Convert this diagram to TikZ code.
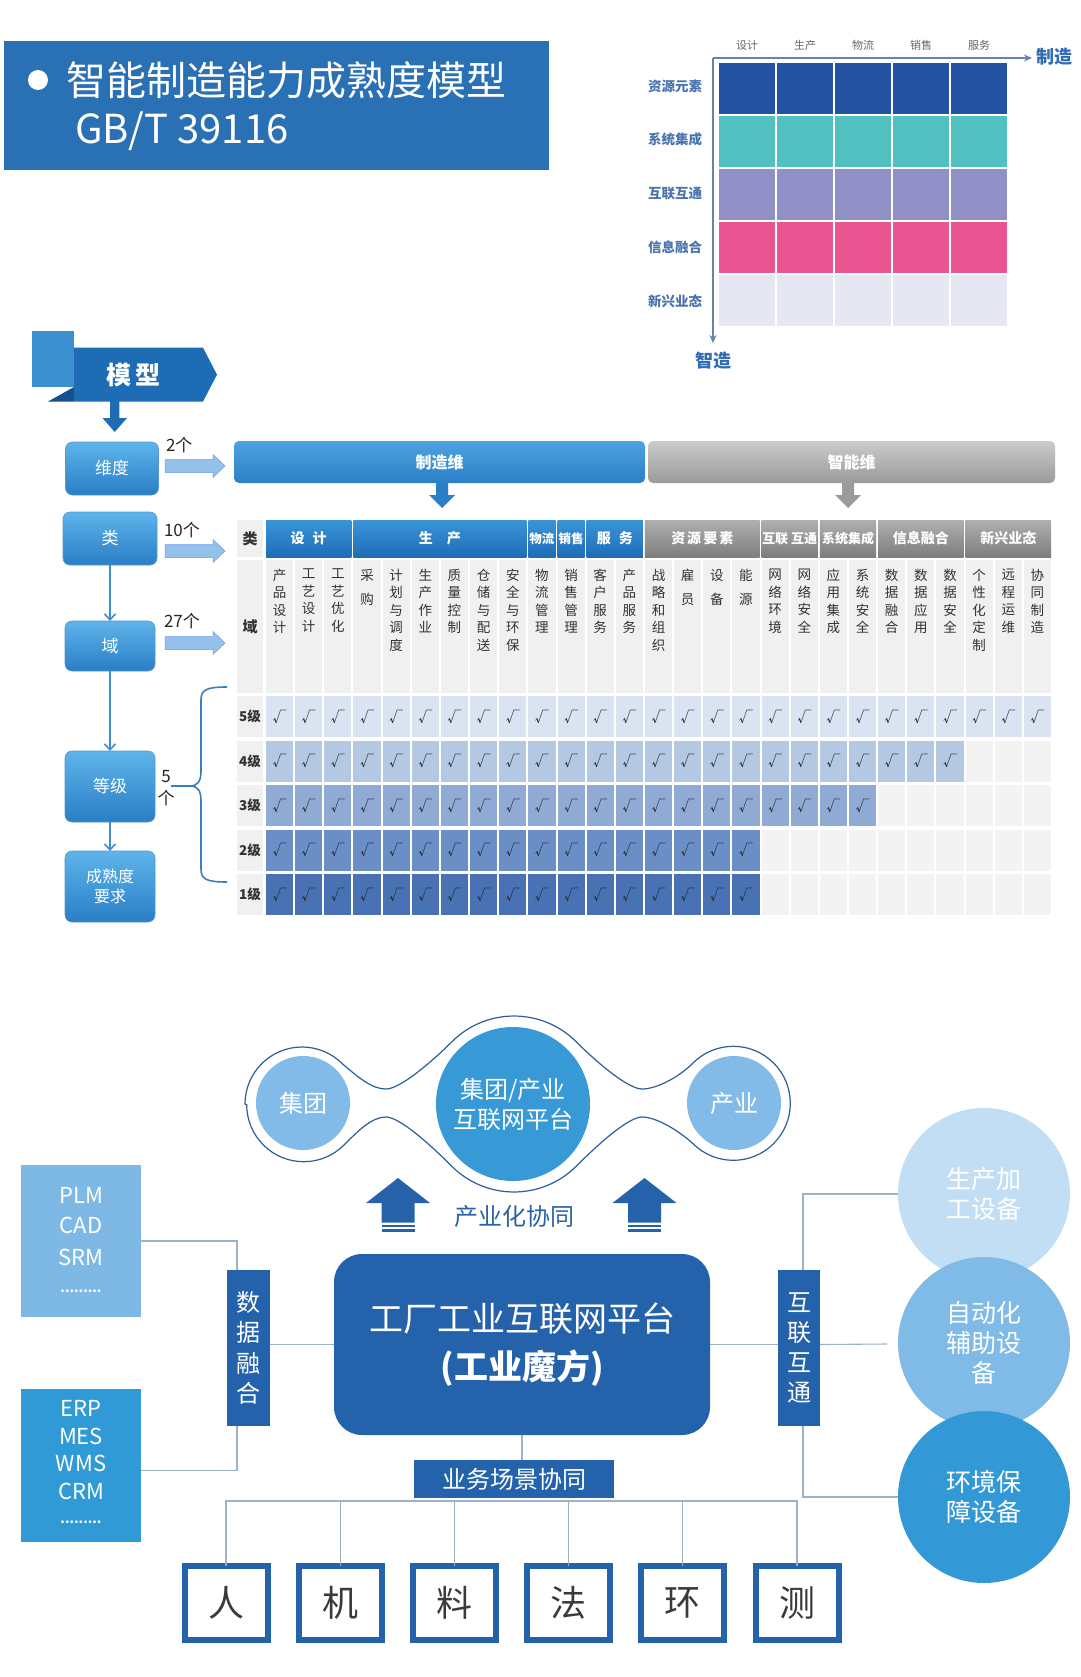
\documentclass[tikz,border=0pt]{standalone}
\usepackage{fontspec}
\setmainfont{Noto Sans CJK SC}
\usetikzlibrary{arrows.meta,calc}
\definecolor{titleblue}{HTML}{2A70B4}
\definecolor{mrow1}{HTML}{2453A4}
\definecolor{mrow2}{HTML}{52BFC0}
\definecolor{mrow3}{HTML}{9090C6}
\definecolor{mrow4}{HTML}{E85591}
\definecolor{mrow5}{HTML}{E5E8F3}
\definecolor{axisc}{HTML}{6384AC}
\definecolor{rowlab}{HTML}{4B74AE}
\definecolor{zlab}{HTML}{2F6CB3}
\definecolor{bannerblue}{HTML}{1E6DB4}
\definecolor{bannerlight}{HTML}{3B90D0}
\definecolor{bannerdark}{HTML}{17508F}
\definecolor{lboxtop}{HTML}{5EB4EA}
\definecolor{lboxbot}{HTML}{2A7EC5}
\definecolor{conarr}{HTML}{3F8DD3}
\definecolor{rarrfill}{HTML}{92C1EA}
\definecolor{hbtop}{HTML}{4DA3E0}
\definecolor{hbbot}{HTML}{2A7FC7}
\definecolor{hgtop}{HTML}{CBCBCB}
\definecolor{hgbot}{HTML}{9A9A9A}
\definecolor{catbtop}{HTML}{3A94D8}
\definecolor{catbbot}{HTML}{1E6DB6}
\definecolor{catgtop}{HTML}{AFAFAF}
\definecolor{catgbot}{HTML}{7E7E7E}
\definecolor{cellg}{HTML}{F0F0F0}
\definecolor{emptyg}{HTML}{F3F3F3}
\definecolor{lv5}{HTML}{DAE3F1}
\definecolor{lv4}{HTML}{B5C8E3}
\definecolor{lv3}{HTML}{8FABD5}
\definecolor{lv2}{HTML}{6A8EC5}
\definecolor{lv1}{HTML}{4872B3}
\definecolor{domtext}{HTML}{333333}
\definecolor{blobline}{HTML}{2C5E9C}
\definecolor{cblue1}{HTML}{82BBE7}
\definecolor{cblue2}{HTML}{3799D6}
\definecolor{uparr}{HTML}{2662AA}
\definecolor{syncblue}{HTML}{2B62A6}
\definecolor{plmfill}{HTML}{7EB9E6}
\definecolor{erpfill}{HTML}{2F9AD6}
\definecolor{darkb}{HTML}{2463AC}
\definecolor{connc}{HTML}{9DB2C8}
\definecolor{circ1}{HTML}{C2DEF4}
\definecolor{circ2}{HTML}{80BAE7}
\definecolor{circ3}{HTML}{3399D6}
\definecolor{boxtext}{HTML}{3A3A3A}
\newcommand\fsz[2]{\fontsize{#1pt}{#2pt}\selectfont}
\begin{document}
\begin{tikzpicture}[x=1pt,y=-1pt,
  every node/.style={inner sep=0pt,outer sep=0pt},
  axisline/.style={draw=axisc,line width=1.6pt},
  lbox/.style={rounded corners=7pt,top color=lboxtop,bottom color=lboxbot,draw=lboxbot!80!white,line width=0.6pt,text=white,font=\fsz{17}{21},align=center},
  conline/.style={draw=conarr,line width=1.6pt,-{Straight Barb[length=6pt,width=11pt]}},
  rarr/.style={fill=rarrfill,draw=rarrfill!80!blue,line width=0.5pt},
  cntlab/.style={font=\fsz{17}{22},text=black!85,anchor=west},
  hcatb/.style={top color=catbtop,bottom color=catbbot,text=white,font=\bfseries\fsz{14}{16},minimum height=37,anchor=north west},
  hcatg/.style={top color=catgtop,bottom color=catgbot,text=white,font=\bfseries\fsz{14}{16},minimum height=37,anchor=north west},
  conn/.style={draw=connc,line width=1.1pt},
  cjbox/.style={draw=darkb,line width=6pt,fill=white,minimum width=83,minimum height=74,font=\fsz{36}{40},text=boxtext},
  bigc/.style={circle,minimum size=172,text=white,font=\fsz{25}{30},align=center}
]
\useasboundingbox (0,0) rectangle (1080,1677);
\fill[white] (0,0) rectangle (1080,1677);

% ---------- title ----------
\node[fill=titleblue,minimum width=545,minimum height=129,anchor=north west] (title) at (4,41) {};
\node[circle,fill=white,minimum size=20] (bullet) at (38,80) {};
\node[anchor=west,text=white,font=\fsz{40}{48}] (t1) at (66,80) {智能制造能力成熟度模型};
\node[anchor=west,text=white,font=\fsz{40}{48}] (t2) at (75,131) {GB/T 39116};

% ---------- matrix chart ----------
\foreach \c [count=\i from 0] in {mrow1,mrow2,mrow3,mrow4,mrow5}
  \foreach \j in {0,...,4}
    \node[fill=\c,draw=white,line width=1.5pt,minimum width=58,minimum height=53,anchor=north west] (m\i\j) at ({718+58*\j},{62+53*\i}) {};
\coordinate (ax0) at (713,58);
\coordinate (axx) at (1032,58);
\coordinate (axy) at (713,343);
\draw[axisline,-{Stealth[length=8pt,width=7pt]}] (ax0) -- (axx);
\draw[axisline,-{Stealth[length=8pt,width=7pt]}] (ax0) -- (axy);
\foreach \t [count=\j from 0] in {设计,生产,物流,销售,服务}
  \node[font=\fsz{11}{13},text=black!60] (cl\j) at ({747+58*\j},45) {\t};
\foreach \t [count=\i from 0] in {资源元素,系统集成,互联互通,信息融合,新兴业态}
  \node[font=\bfseries\fsz{13.5}{16},text=rowlab] (rl\i) at (675,{86+53.7*\i}) {\t};
\node[font=\bfseries\fsz{18}{22},text=zlab] (zz) at (1054,57) {制造};
\node[font=\bfseries\fsz{18}{22},text=zlab] (zn) at (713,361) {智造};

% ---------- model banner ----------
\fill[bannerlight] (32,331) rectangle (74,387);
\fill[bannerdark] (48,401.5) -- (74,401.5) -- (74,387) -- cycle;
\fill[bannerblue] (74,347.7) -- (203,347.7) -- (217,374.6) -- (203,401.5) -- (74,401.5) -- cycle;
\node[font=\bfseries\fsz{25}{30},text=white] (mx) at (133,375) {模\hspace{4pt}型};
\fill[bannerblue] (110,401) -- (119.3,401) -- (119.3,418) -- (127,418) -- (114.7,432) -- (102.5,418) -- (110,418) -- cycle;

% ---------- left flow ----------
\node[lbox,minimum width=93,minimum height=53] (wd) at (112,468.5) {维度};
\node[lbox,minimum width=94,minimum height=53] (lei) at (110,538.5) {类};
\node[lbox,minimum width=90,minimum height=50] (yu) at (110,646) {域};
\node[lbox,minimum width=90,minimum height=71] (dj) at (110,786.5) {等级};
\node[lbox,minimum width=90,minimum height=71,font=\fsz{16}{20}] (csd) at (110,886.5) {成熟度\\要求};
\draw[conline] (lei.south) -- (yu.north);
\draw[conline] (yu.south) -- (dj.north);
\draw[conline] (dj.south) -- (csd.north);
\foreach \yc in {466,551,643}
  \filldraw[rarr] (165,\yc-6.5) -- (213,\yc-6.5) -- (213,\yc-11.5) -- (225,\yc) -- (213,\yc+11.5) -- (213,\yc+6.5) -- (165,\yc+6.5) -- cycle;
\node[cntlab] (n2) at (166,445) {2个};
\node[cntlab] (n10) at (164,530) {10个};
\node[cntlab] (n27) at (164,621) {27个};
\node[font=\fsz{17}{22},align=center,text=black!85] (n5) at (166,788) {5\\个};
\draw[draw=conarr!90!black,line width=1.6pt]
  (171,786) -- (190,786)
  .. controls (198,786) and (201,781) .. (201,771) -- (201,700)
  .. controls (201,690) and (206,687) .. (227,687);
\draw[draw=conarr!90!black,line width=1.6pt]
  (190,786) .. controls (198,786) and (201,791) .. (201,801) -- (201,869)
  .. controls (201,879) and (206,882) .. (227,882);

% ---------- dimension bars ----------
\node[rounded corners=5pt,top color=hbtop,bottom color=hbbot,minimum width=411,minimum height=42,anchor=north west,text=white,font=\bfseries\fsz{16}{18}] (mfg) at (234,441) {制造维};
\node[rounded corners=5pt,top color=hgtop,bottom color=hgbot,minimum width=407,minimum height=42,anchor=north west,text=white,font=\bfseries\fsz{16}{18}] (intl) at (648,441) {智能维};
\fill[hbbot] (436,483) -- (448,483) -- (448,495) -- (455,495) -- (442,508) -- (429,495) -- (436,495) -- cycle;
\fill[hgbot] (842,483) -- (854,483) -- (854,495) -- (861,495) -- (848,508) -- (835,495) -- (842,495) -- cycle;

% ---------- table ----------
\node[fill=cellg,minimum width=26,minimum height=37,anchor=north west,font=\bfseries\fsz{15}{17},text=domtext] (hlei) at (237,520) {类};
\node[fill=cellg,minimum width=26,minimum height=133,anchor=north west,font=\bfseries\fsz{15}{17},text=domtext] (hyu) at (237,560) {域};
\foreach \a/\b/\t in {0/2/{设\hspace{8pt}计},3/8/{生\hspace{14pt}产},9/9/{\fsz{12.5}{14}物流},10/10/{\fsz{12.5}{14}销售},11/12/{服\hspace{8pt}务}} {
  \pgfmathsetmacro\xa{265+\a*29.15+1}
  \pgfmathsetmacro\w{(\b-\a+1)*29.15-2}
  \node[hcatb,minimum width=\w] (hc\a) at (\xa,520) {\t};
}
\foreach \a/\b/\t in {13/16/{资\hspace{2pt}源\hspace{2pt}要\hspace{2pt}素},17/18/{\fsz{13}{14}互联\hspace{3pt}互通},19/20/{\fsz{13}{14}系统集成},21/23/{信息融合},24/26/{新兴业态}} {
  \pgfmathsetmacro\xa{265+\a*29.15+1}
  \pgfmathsetmacro\w{(\b-\a+1)*29.15-2}
  \node[hcatg,minimum width=\w] (hc\a) at (\xa,520) {\t};
}
\foreach \k in {0,...,26} {
  \pgfmathsetmacro\xa{265+\k*29.15+1}
  \node[fill=cellg,minimum width=27.15,minimum height=133,anchor=north west] (dc\k) at (\xa,560) {};
}
\foreach \t [count=\k from 0] in {产\\品\\设\\计,工\\艺\\设\\计,工\\艺\\优\\化,采\\[7pt]购,计\\划\\与\\调\\度,生\\产\\作\\业,质\\量\\控\\制,仓\\储\\与\\配\\送,安\\全\\与\\环\\保,物\\流\\管\\理,销\\售\\管\\理,客\\户\\服\\务,产\\品\\服\\务,战\\略\\和\\组\\织,雇\\[7pt]员,设\\[7pt]备,能\\[7pt]源,网\\络\\环\\境,网\\络\\安\\全,应\\用\\集\\成,系\\统\\安\\全,数\\据\\融\\合,数\\据\\应\\用,数\\据\\安\\全,个\\性\\化\\定\\制,远\\程\\运\\维,协\\同\\制\\造} {
  \pgfmathsetmacro\xc{265+\k*29.15+14.575}
  \node[anchor=north,align=center,font=\fsz{13.5}{17.5},text=domtext] (dt\k) at (\xc,569) {\t};
}
\foreach \r/\n/\col/\lab in {0/27/lv5/5级,1/24/lv4/4级,2/21/lv3/3级,3/17/lv2/2级,4/17/lv1/1级} {
  \pgfmathsetmacro\ya{696+\r*44.5}
  \node[fill=cellg,minimum width=26,minimum height=41,anchor=north west,font=\bfseries\fsz{13.5}{16},text=domtext] (lv\r) at (237,\ya) {\lab};
  \foreach \k in {0,...,26} {
    \pgfmathsetmacro\xa{265+\k*29.15+1}
    \ifnum\k<\n
      \node[fill=\col,minimum width=27.15,minimum height=41,anchor=north west,font=\fsz{14}{16},text=black!85] (c\r-\k) at (\xa,\ya) {√};
    \else
      \node[fill=emptyg,minimum width=27.15,minimum height=41,anchor=north west] (c\r-\k) at (\xa,\ya) {};
    \fi
  }
}

% ---------- platform blob ----------
\draw[draw=blobline,line width=1.2pt,fill=white]
  (245,1104) arc[start angle=180,end angle=315,radius=57]
  .. controls (359,1078) and (372,1089) .. (386,1089)
  .. controls (400,1089) and (431.8,1061.8) .. (451.8,1041.8)
  arc[start angle=225,end angle=315,radius=88]
  .. controls (596.2,1061.8) and (628,1089) .. (642,1089)
  .. controls (656,1089) and (678,1078) .. (693,1063)
  arc[start angle=225,end angle=495,radius=57]
  .. controls (678,1130) and (656,1117) .. (642,1117)
  .. controls (628,1117) and (596.2,1146.2) .. (576.2,1166.2)
  arc[start angle=45,end angle=135,radius=88]
  .. controls (431.8,1146.2) and (400,1117) .. (386,1117)
  .. controls (372,1117) and (359,1130) .. (344,1145)
  arc[start angle=45,end angle=180,radius=57] -- cycle;
\node[circle,fill=cblue1,minimum size=94,text=white,font=\fsz{24}{28}] (jt) at (303,1103) {集团};
\node[circle,fill=cblue2,minimum size=154,text=white,font=\fsz{24}{30},align=center] (pf) at (513,1104) {集团/产业\\互联网平台};
\node[circle,fill=cblue1,minimum size=94,text=white,font=\fsz{24}{28}] (cy) at (734,1103) {产业};
\foreach \xc in {398,644.5} {
  \fill[uparr] (\xc,1178) -- (\xc+32,1203) -- (\xc+16.5,1203) -- (\xc+16.5,1222.5) -- (\xc-16.5,1222.5) -- (\xc-16.5,1203) -- (\xc-32,1203) -- cycle;
  \fill[uparr] (\xc-16.5,1224.5) rectangle (\xc+16.5,1227);
  \fill[uparr] (\xc-16.5,1229) rectangle (\xc+16.5,1231.5);
}
\node[font=\fsz{24}{28},text=syncblue] (sync) at (514,1216) {产业化协同};

% ---------- factory platform ----------
\node[fill=plmfill,minimum width=120,minimum height=152,anchor=north west] (plm) at (21,1165) {};
\node[text=white,font=\fsz{22}{26}] (plm1) at (81,1195) {PLM};
\node[text=white,font=\fsz{22}{26}] (plm2) at (81,1225) {CAD};
\node[text=white,font=\fsz{22}{26}] (plm3) at (81,1257) {SRM};
\node[text=white,font=\bfseries\fsz{13}{14}] (plm4) at (81,1291) {.........};
\node[fill=erpfill,minimum width=120,minimum height=153,anchor=north west] (erp) at (21,1389) {};
\node[text=white,font=\fsz{22}{26}] (erp1) at (81,1408) {ERP};
\node[text=white,font=\fsz{22}{26}] (erp2) at (81,1436) {MES};
\node[text=white,font=\fsz{22}{26}] (erp3) at (81,1463) {WMS};
\node[text=white,font=\fsz{22}{26}] (erp4) at (81,1491) {CRM};
\node[text=white,font=\bfseries\fsz{13}{14}] (erp5) at (81,1522) {.........};

\node[fill=darkb,minimum width=43,minimum height=156,text=white,font=\fsz{24}{30.5},align=center] (dbar) at (248.5,1348) {数\\据\\融\\合};
\node[fill=darkb,minimum width=42,minimum height=156,text=white,font=\fsz{24}{30},align=center] (hbar) at (799,1348) {互\\联\\互\\通};
\node[fill=darkb,rounded corners=28pt,minimum width=376,minimum height=181,text=white,align=center] (main) at (522,1344.5) {{\fsz{34}{40}工厂工业互联网平台}\\[14pt]{\bfseries\fsz{34}{40}(工业魔方)}};
\node[fill=darkb,minimum width=200,minimum height=38,text=white,font=\fsz{24}{28}] (biz) at (514,1479) {业务场景协同};

\coordinate (dtop) at (237,1270);
\coordinate (dbot) at (237,1426);
\coordinate (rtop) at (803,1270);
\coordinate (rbot) at (803,1426);
\coordinate (rmid) at (887,1344);
\coordinate (bus) at (514,1501);
\draw[conn] (plm.east) -| (dtop);
\draw[conn] ($(erp.east)+(0,5)$) -| (dbot);
\draw[conn] (main.west) -- (main.west -| dbar.east);
\draw[conn] (main.east) -- (main.east -| hbar.west);
\draw[conn] (main.east -| hbar.east) -- (rmid);
\draw[conn] (main.south) -- (main.south |- biz.north);

\node[bigc,fill=circ1] (c1) at (984,1194) {生产加\\工设备};
\node[bigc,fill=circ2] (c2) at (984,1343) {自动化\\辅助设\\备};
\node[bigc,fill=circ3] (c3) at (984,1497) {环境保\\障设备};
\draw[conn] (c1.west) -| (rtop);
\draw[conn] (c3.west) -| (rbot);

\foreach \t [count=\i] in {人,机,料,法,环,测} {
  \node[cjbox] (b\i) at ({226+114.2*(\i-1)},1603) {\t};
}
\draw[conn] (b1.north) |- (bus);
\draw[conn] (b6.north) |- (bus);
\foreach \i in {2,...,5}
  \draw[conn] (b\i.north) -- (b\i.north |- bus);
\end{tikzpicture}
\end{document}
